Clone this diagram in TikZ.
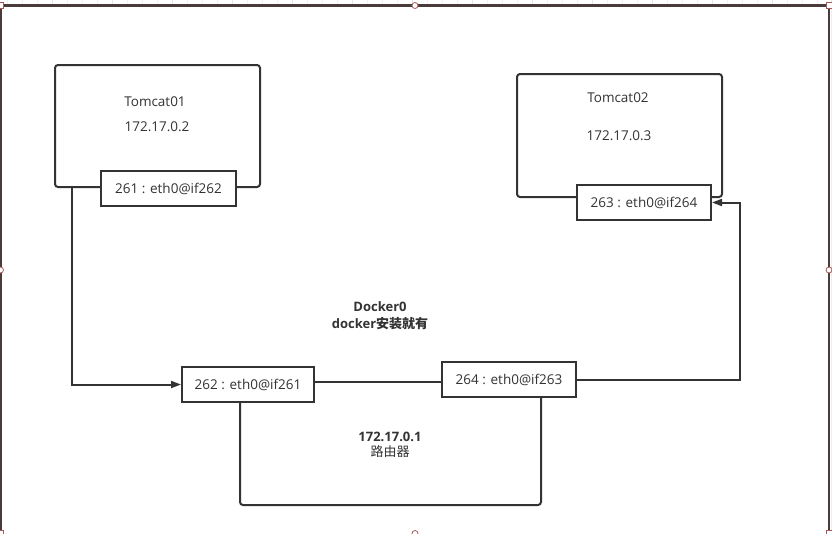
\documentclass[tikz,border=0pt]{standalone}
\usepackage{fontspec}
\setmainfont{Open Sans}
\newfontfamily\cjk{Noto Sans CJK SC}
\usetikzlibrary{arrows.meta}
\definecolor{ln}{HTML}{333333}
\definecolor{frm}{HTML}{4A3B3B}
\definecolor{hdl}{HTML}{A85858}
\definecolor{grd}{HTML}{E6E6E6}
\begin{document}
\begin{tikzpicture}[x=1pt,y=-1pt,
  font=\fontsize{13.5}{15}\selectfont,
  box/.style={draw=ln, line width=2pt, rounded corners=3pt, minimum width=205pt, minimum height=122pt, inner sep=0},
  port/.style={draw=ln, line width=2pt, fill=white, minimum width=134pt, minimum height=35pt, inner sep=0, text=ln},
  conn/.style={ln, line width=2pt},
  arr/.style={conn, -{Triangle[length=10pt,width=7pt]}},
  lbl/.style={text=ln, inner sep=0},
  handleq/.style={draw=hdl, fill=white, line width=0.8pt, minimum size=6pt, inner sep=0},
  handlec/.style={handleq, circle}]
\useasboundingbox (0,0) rectangle (832,533);
% faint grid strip at top
\foreach \gx in {7,22,...,832} {\draw[grd!60, line width=0.4pt] (\gx,0) -- (\gx,5);}
\foreach \gx in {52,112,...,832} {\draw[grd, line width=0.6pt] (\gx,0) -- (\gx,5);}
\draw[grd!70, line width=0.8pt] (831.5,0) -- (831.5,533);
% frame
\draw[frm, line width=1.5pt] (0.75,5) -- (0.75,540);
\draw[frm, line width=1.5pt] (829,5) -- (829,540);
\draw[frm, line width=2.6pt] (0,5.5) -- (829,5.5);
% containers
\node[box] (t1) at (157.5,126) {};
\node[lbl] (t1name) at (155,102) {Tomcat01};
\node[lbl] (t1ip) at (157,127) {172.17.0.2};
\node[box, minimum height=123pt] (t2) at (619.5,135.5) {};
\node[lbl] (t2name) at (618,98) {Tomcat02};
\node[lbl] (t2ip) at (619,136) {172.17.0.3};
% connectors (drawn before the ports)
\draw[conn, rounded corners=3pt] (240,402) coordinate (lp) -- ++(0,103) -| (541,397) coordinate (rp);
\node[port, minimum width=135pt] (t1port) at (168.5,188.5) {261 : eth0@if262};
\node[port] (t2port) at (644,202.5) {263 : eth0@if264};
\node[port, minimum width=132pt] (p262) at (248,384.5) {262 : eth0@if261};
\node[port] (p264) at (509,379.5) {264 : eth0@if263};
\draw[arr] ([xshift=-85.5pt]t1.south) |- (p262.west);
\draw[conn] ([yshift=2.5pt]p262.east) -- ([yshift=-2.5pt]p264.west);
\draw[arr] (p264.east) -- ++(163,0) |- (t2port.east);
% labels
\node[lbl, font=\fontsize{13}{17}\selectfont\bfseries, align=center] (dk) at (380,315.5) {Docker0\\docker{\cjk 安装就有}};
\node[lbl, align=center, font=\fontsize{13}{15}\selectfont] (rt) at (390,444.5) {\textbf{172.17.0.1}\\{\cjk 路由器}};
% selection handles
\node[handleq] (hq1) at (0.5,5.5) {};
\node[handleq] (hq2) at (829,5.5) {};
\node[handlec] (hc1) at (415,5.5) {};
\node[handlec] (hc2) at (0.5,270) {};
\node[handlec] (hc3) at (829,270) {};
\node[handlec] (hc4) at (415,533.5) {};
\node[handleq] (hq3) at (0.5,533.5) {};
\node[handleq] (hq4) at (829,533.5) {};
\end{tikzpicture}
\end{document}
